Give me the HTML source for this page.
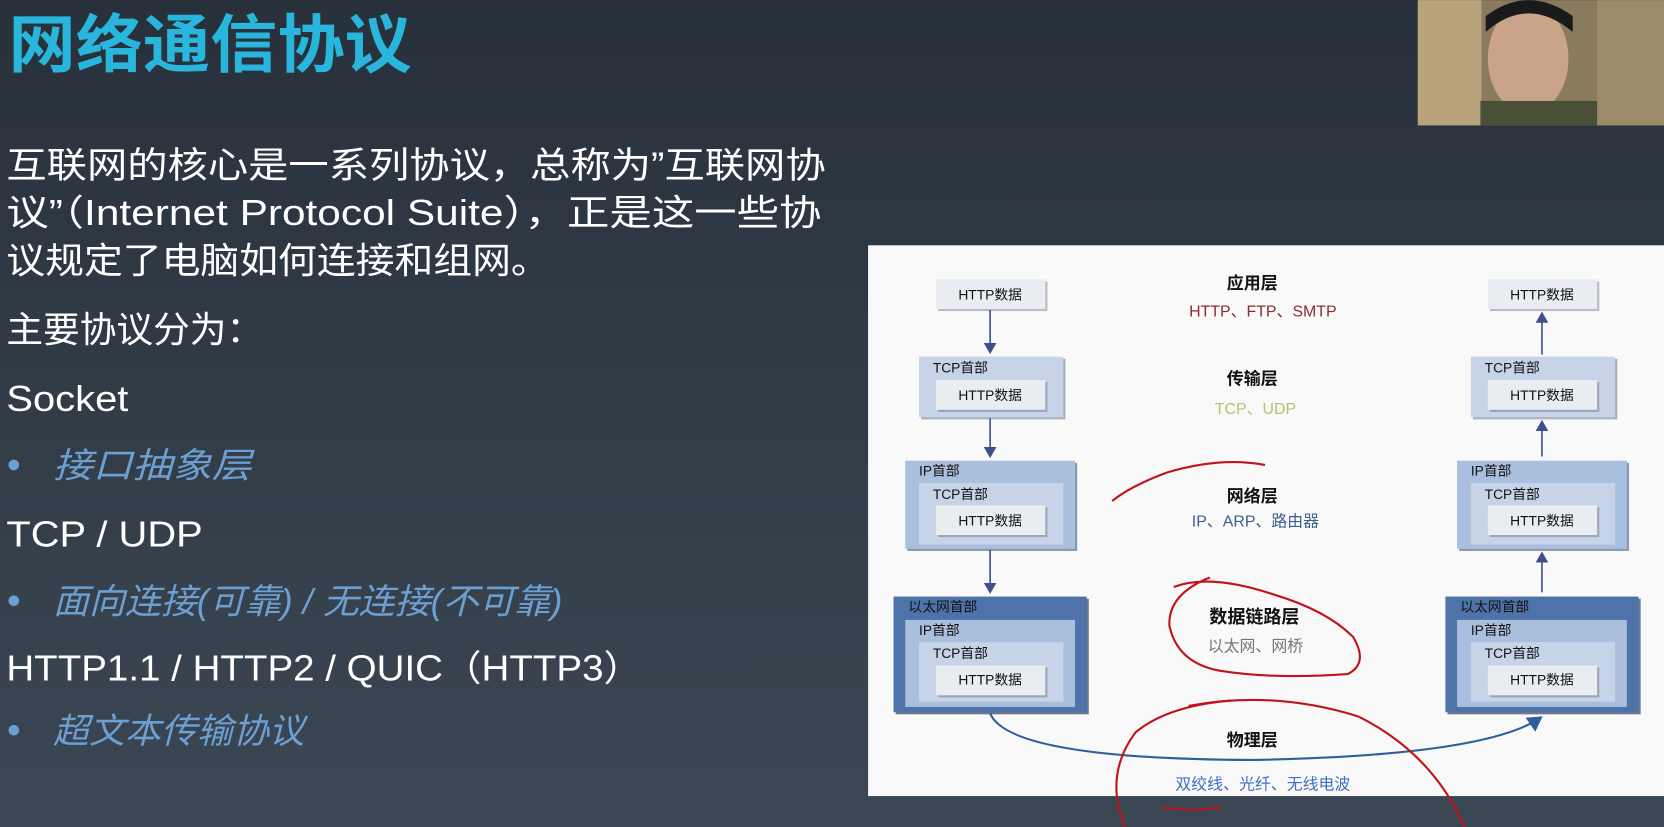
<!DOCTYPE html>
<html><head><meta charset="utf-8"><style>
html,body{margin:0;padding:0;overflow:hidden;background:#2f3a45}
svg{display:block}
text{font-family:"Liberation Sans","Noto Sans CJK SC",sans-serif}
</style></head><body>
<svg width="1664" height="827" viewBox="0 0 1568 779" xmlns="http://www.w3.org/2000/svg">
<defs>
<linearGradient id="bg" x1="0" y1="0" x2="0" y2="1"><stop offset="0" stop-color="#28313b"/><stop offset="1" stop-color="#3b4753"/></linearGradient>
<marker id="ah" markerWidth="8" markerHeight="8" refX="6" refY="4" orient="auto"><path d="M0,0 L7,4 L0,8 z" fill="#3d4f8c"/></marker>
<marker id="ah2" markerWidth="8" markerHeight="8" refX="6" refY="4" orient="auto"><path d="M0,0 L7,4 L0,8 z" fill="#2d5f9a"/></marker>
</defs>
<rect width="1568" height="779" fill="url(#bg)"/>
<!-- webcam -->
<rect x="1336" y="0" width="232" height="118" fill="#8a7a5e"/>
<rect x="1336" y="0" width="60" height="118" fill="#b8a37a"/>
<ellipse cx="1440" cy="55" rx="38" ry="52" fill="#c9a488"/>
<path d="M1400 30 Q1440 -5 1482 30 L1482 15 Q1440 -15 1400 15z" fill="#1a1a1a"/>
<rect x="1395" y="95" width="110" height="23" fill="#4a4f38"/>
<rect x="1505" y="0" width="63" height="118" fill="#9c8a68"/>
<!-- left text -->
<text x="8" y="63" font-size="60" font-weight="bold" fill="#29b6dc" textLength="380" lengthAdjust="spacingAndGlyphs">网络通信协议</text>
<g fill="#ffffff" font-size="34">
<text x="6" y="167" textLength="772" lengthAdjust="spacingAndGlyphs">互联网的核心是一系列协议，总称为”互联网协</text>
<text x="6" y="212" textLength="768" lengthAdjust="spacingAndGlyphs">议”（Internet Protocol Suite），正是这一些协</text>
<text x="6" y="257" textLength="512" lengthAdjust="spacingAndGlyphs">议规定了电脑如何连接和组网。</text>
<text x="6" y="322" textLength="242" lengthAdjust="spacingAndGlyphs">主要协议分为：</text>
<text x="6" y="387" textLength="115" lengthAdjust="spacingAndGlyphs">Socket</text>
<text x="6" y="515" textLength="185" lengthAdjust="spacingAndGlyphs">TCP / UDP</text>
<text x="6" y="641" textLength="599" lengthAdjust="spacingAndGlyphs">HTTP1.1 / HTTP2 / QUIC（HTTP3）</text>
</g>
<g fill="#6c9fd2" font-size="33" font-style="italic">
<circle cx="13" cy="438" r="5"/><text x="50" y="450" textLength="187" lengthAdjust="spacingAndGlyphs">接口抽象层</text>
<circle cx="13" cy="566" r="5"/><text x="50" y="578" textLength="480" lengthAdjust="spacingAndGlyphs">面向连接(可靠) / 无连接(不可靠)</text>
<circle cx="13" cy="688" r="5"/><text x="50" y="700" textLength="237" lengthAdjust="spacingAndGlyphs">超文本传输协议</text>
</g>
<!-- panel -->
<rect x="818" y="231" width="750" height="519" fill="#f9f9f9"/>
<g font-size="13" fill="#111">
<g id="L">
<rect x="884" y="265" width="103" height="28" fill="#b8bcc4"/><rect x="882" y="263" width="103" height="28" fill="#e9ecf1"/><text x="933" y="282" text-anchor="middle">HTTP数据</text>
<rect x="868" y="338" width="136" height="57" fill="#a9b0bd"/><rect x="866" y="336" width="136" height="57" fill="#c7d4e8"/><text x="879" y="351">TCP首部</text>
<rect x="884" y="360" width="103" height="28" fill="#9aa6b8"/><rect x="882" y="358" width="103" height="28" fill="#e9ecf1"/><text x="933" y="377" text-anchor="middle">HTTP数据</text>
<rect x="855" y="436" width="160" height="83" fill="#8a98ae"/><rect x="853" y="434" width="160" height="83" fill="#a9bfdd"/><text x="866" y="448">IP首部</text>
<rect x="866" y="455" width="136" height="58" fill="#c7d4e8"/><text x="879" y="470">TCP首部</text>
<rect x="884" y="478" width="103" height="28" fill="#9aa6b8"/><rect x="882" y="476" width="103" height="28" fill="#e9ecf1"/><text x="933" y="495" text-anchor="middle">HTTP数据</text>
<rect x="844" y="564" width="182" height="109" fill="#6b7890"/><rect x="842" y="562" width="182" height="109" fill="#4e73a9"/><text x="856" y="576">以太网首部</text>
<rect x="853" y="584" width="160" height="82" fill="#a9bfdd"/><text x="866" y="598">IP首部</text>
<rect x="866" y="605" width="136" height="56" fill="#c7d4e8"/><text x="879" y="620">TCP首部</text>
<rect x="884" y="629" width="103" height="28" fill="#9aa6b8"/><rect x="882" y="627" width="103" height="28" fill="#e9ecf1"/><text x="933" y="645" text-anchor="middle">HTTP数据</text>
</g>
<use href="#L" x="520"/>
</g>
<g stroke="#3d4f8c" stroke-width="1.5" fill="none">
<line x1="933" y1="292" x2="933" y2="332" marker-end="url(#ah)"/>
<line x1="933" y1="394" x2="933" y2="430" marker-end="url(#ah)"/>
<line x1="933" y1="518" x2="933" y2="558" marker-end="url(#ah)"/>
<line x1="1453" y1="334" x2="1453" y2="295" marker-end="url(#ah)"/>
<line x1="1453" y1="430" x2="1453" y2="397" marker-end="url(#ah)"/>
<line x1="1453" y1="558" x2="1453" y2="521" marker-end="url(#ah)"/>
</g>
<path d="M933 672 Q950 715 1180 716 Q1400 712 1452 676" stroke="#2d5f9a" stroke-width="2" fill="none" marker-end="url(#ah2)"/>
<g text-anchor="middle" font-size="15">
<text x="1180" y="272" font-weight="bold" font-size="16" fill="#111">应用层</text>
<text x="1190" y="298" fill="#8b2b35">HTTP、FTP、SMTP</text>
<text x="1180" y="362" font-weight="bold" font-size="16" fill="#111">传输层</text>
<text x="1183" y="390" fill="#b9c26e">TCP、UDP</text>
<text x="1180" y="473" font-weight="bold" font-size="16" fill="#111">网络层</text>
<text x="1183" y="496" fill="#3a5f8c">IP、ARP、路由器</text>
<text x="1182" y="587" font-weight="bold" font-size="17" fill="#111">数据链路层</text>
<text x="1183" y="614" fill="#777">以太网、网桥</text>
<text x="1180" y="703" font-weight="bold" font-size="16" fill="#111">物理层</text>
<text x="1190" y="744" fill="#3f6fc2">双绞线、光纤、无线电波</text>
</g>
<!-- red annotations -->
<g stroke="#c0141c" stroke-width="2" fill="none">
<path d="M1192 438 Q1150 430 1100 445 Q1065 458 1048 472"/>
<path d="M1106 553 Q1140 540 1200 560 Q1250 575 1275 600 Q1290 625 1270 635 Q1200 640 1150 632 Q1110 625 1102 590 Q1100 560 1140 544"/>
<path d="M1160 660 Q1100 665 1070 690 Q1040 730 1060 779"/>
<path d="M1120 665 Q1200 650 1280 675 Q1350 710 1380 779"/>
<path d="M1095 760 Q1125 766 1150 760"/>
</g>
</svg>
</body></html>
